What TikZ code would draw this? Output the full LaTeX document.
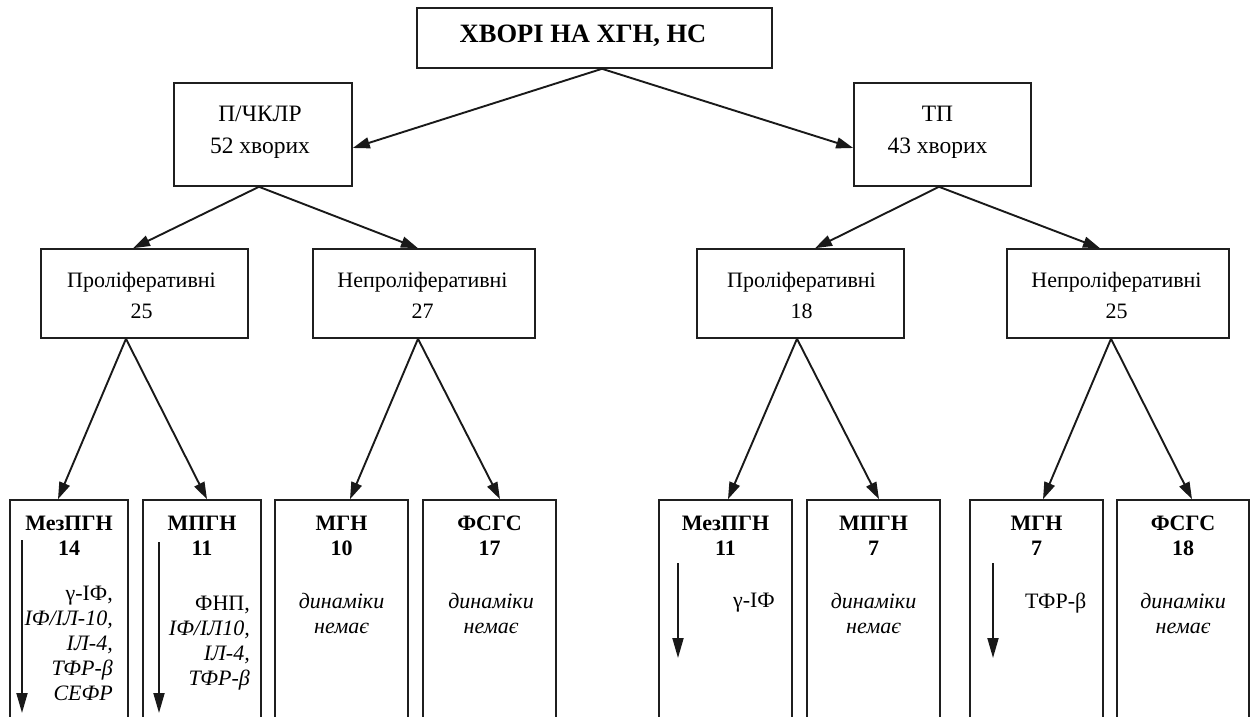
\documentclass[tikz,border=0pt]{standalone}
\usepackage{fontspec}
\setmainfont{Liberation Serif}
\usetikzlibrary{arrows.meta}
\begin{document}
\begin{tikzpicture}[x=1pt,y=-1pt,
  box/.style={draw=black!88, line width=1.6pt, inner sep=0pt},
  arr/.style={draw=black!90, line width=1.9pt, -{Triangle[length=17pt,width=11pt]}},
  darr/.style={draw=black!90, line width=1.9pt, -{Triangle[length=20pt,width=11pt]}},
  t/.style={inner sep=0pt, anchor=base, font=\fontsize{22}{25}\selectfont},
  tb/.style={t, font=\fontsize{22}{25}\selectfont\bfseries},
  ti/.style={t, font=\fontsize{22}{25}\selectfont\itshape},
  tm/.style={t, font=\fontsize{23.5}{28}\selectfont},
  ttl/.style={t, font=\fontsize{26.5}{30}\selectfont\bfseries}]
\useasboundingbox (0,0) rectangle (1250,717);
\clip (0,0) rectangle (1250,717);

% boxes
\node[box, minimum width=355pt, minimum height=60pt] (top) at (594.5,38) {};
\node[box, minimum width=178pt, minimum height=103pt] (pch) at (263,134.5) {};
\node[box, minimum width=177pt, minimum height=103pt] (tp) at (942.5,134.5) {};
\node[box, minimum width=207pt, minimum height=89pt] (p25) at (144.5,293.5) {};
\node[box, minimum width=222pt, minimum height=89pt] (n27) at (424,293.5) {};
\node[box, minimum width=207pt, minimum height=89pt] (p18) at (800.5,293.5) {};
\node[box, minimum width=222pt, minimum height=89pt] (n25) at (1118,293.5) {};
\node[box, minimum width=118pt, minimum height=225pt] (b1) at (69,612.5) {};
\node[box, minimum width=118pt, minimum height=225pt] (b2) at (202,612.5) {};
\node[box, minimum width=133pt, minimum height=225pt] (b3) at (341.5,612.5) {};
\node[box, minimum width=133pt, minimum height=225pt] (b4) at (489.5,612.5) {};
\node[box, minimum width=133pt, minimum height=225pt] (b5) at (725.5,612.5) {};
\node[box, minimum width=133pt, minimum height=225pt] (b6) at (873.5,612.5) {};
\node[box, minimum width=133pt, minimum height=225pt] (b7) at (1036.5,612.5) {};
\node[box, minimum width=132pt, minimum height=225pt] (b8) at (1183,612.5) {};

% texts
\node[ttl] (ttop) at (583,43) {ХВОРІ НА ХГН, НС};
\node[tm] (tpch1) at (260,121) {П/ЧКЛР};
\node[tm] (tpch2) at (260,153) {52 хворих};
\node[tm] (ttp1) at (937.5,121) {ТП};
\node[tm] (ttp2) at (937.5,153) {43 хворих};
\node[t] (tp25a) at (141.5,287) {Проліферативні};
\node[t] (tp25b) at (141.5,318) {25};
\node[t] (tn27a) at (422.5,287) {Непроліферативні};
\node[t] (tn27b) at (422.5,318) {27};
\node[t] (tp18a) at (801.5,287) {Проліферативні};
\node[t] (tp18b) at (801.5,318) {18};
\node[t] (tn25a) at (1116.5,287) {Непроліферативні};
\node[t] (tn25b) at (1116.5,318) {25};

\node[tb] (tb1a) at (69,530) {МезПГН};
\node[tb] (tb1b) at (69,555) {14};
\node[t, anchor=base east] (tb1c) at (113,600) {γ-ІФ,};
\node[ti, anchor=base east] (tb1d) at (113,625) {ІФ/ІЛ-10,};
\node[ti, anchor=base east] (tb1e) at (113,650) {ІЛ-4,};
\node[ti, anchor=base east] (tb1f) at (113,675) {ТФР-β};
\node[ti, anchor=base east] (tb1g) at (113,700) {СЕФР};

\node[tb] (tb2a) at (202,530) {МПГН};
\node[tb] (tb2b) at (202,555) {11};
\node[t, anchor=base east] (tb2c) at (250,610) {ФНП,};
\node[ti, anchor=base east] (tb2d) at (250,635) {ІФ/ІЛ10,};
\node[ti, anchor=base east] (tb2e) at (250,660) {ІЛ-4,};
\node[ti, anchor=base east] (tb2f) at (250,685) {ТФР-β};

\node[tb] (tb3a) at (341.5,530) {МГН};
\node[tb] (tb3b) at (341.5,555) {10};
\node[ti] (tb3c) at (341.5,608) {динаміки};
\node[ti] (tb3d) at (341.5,633) {немає};

\node[tb] (tb4a) at (489.5,530) {ФСГС};
\node[tb] (tb4b) at (489.5,555) {17};
\node[ti] (tb4c) at (491,608) {динаміки};
\node[ti] (tb4d) at (491,633) {немає};

\node[tb] (tb5a) at (725.5,530) {МезПГН};
\node[tb] (tb5b) at (725.5,555) {11};
\node[t, anchor=base east] (tb5c) at (775,607) {γ-ІФ};

\node[tb] (tb6a) at (873.5,530) {МПГН};
\node[tb] (tb6b) at (873.5,555) {7};
\node[ti] (tb6c) at (873.5,608) {динаміки};
\node[ti] (tb6d) at (873.5,633) {немає};

\node[tb] (tb7a) at (1036.5,530) {МГН};
\node[tb] (tb7b) at (1036.5,555) {7};
\node[t, anchor=base west] (tb7c) at (1025,608) {ТФР-β};

\node[tb] (tb8a) at (1183,530) {ФСГС};
\node[tb] (tb8b) at (1183,555) {18};
\node[ti] (tb8c) at (1183,608) {динаміки};
\node[ti] (tb8d) at (1183,633) {немає};

% connectors
\draw[arr] ([xshift=7.5pt]top.south) -- ([yshift=-13.5pt]pch.east);
\draw[arr] ([xshift=7.5pt]top.south) -- ([yshift=-13.5pt]tp.west);
\draw[arr] ([xshift=-4pt]pch.south) -- ([xshift=-11.5pt]p25.north);
\draw[arr] ([xshift=-4pt]pch.south) -- ([xshift=-6pt]n27.north);
\draw[arr] ([xshift=-3.5pt]tp.south) -- ([xshift=14.5pt]p18.north);
\draw[arr] ([xshift=-3.5pt]tp.south) -- ([xshift=-18pt]n25.north);
\draw[arr] ([xshift=-18.5pt]p25.south) -- ([xshift=-11pt]b1.north);
\draw[arr] ([xshift=-18.5pt]p25.south) -- ([xshift=5pt]b2.north);
\draw[arr] ([xshift=-6pt]n27.south) -- ([xshift=8.5pt]b3.north);
\draw[arr] ([xshift=-6pt]n27.south) -- ([xshift=10.5pt]b4.north);
\draw[arr] ([xshift=-3.5pt]p18.south) -- ([xshift=2.5pt]b5.north);
\draw[arr] ([xshift=-3.5pt]p18.south) -- ([xshift=5.5pt]b6.north);
\draw[arr] ([xshift=-7pt]n25.south) -- ([xshift=6.5pt]b7.north);
\draw[arr] ([xshift=-7pt]n25.south) -- ([xshift=9pt]b8.north);

% trend arrows inside boxes
\coordinate (d1s) at (22,540);  \coordinate (d1e) at (22,713);
\coordinate (d2s) at (159,542); \coordinate (d2e) at (159,713);
\coordinate (d5s) at (678,563); \coordinate (d5e) at (678,658);
\coordinate (d7s) at (993,563); \coordinate (d7e) at (993,658);
\draw[darr] (d1s) -- (d1e);
\draw[darr] (d2s) -- (d2e);
\draw[darr] (d5s) -- (d5e);
\draw[darr] (d7s) -- (d7e);
\end{tikzpicture}
\end{document}
